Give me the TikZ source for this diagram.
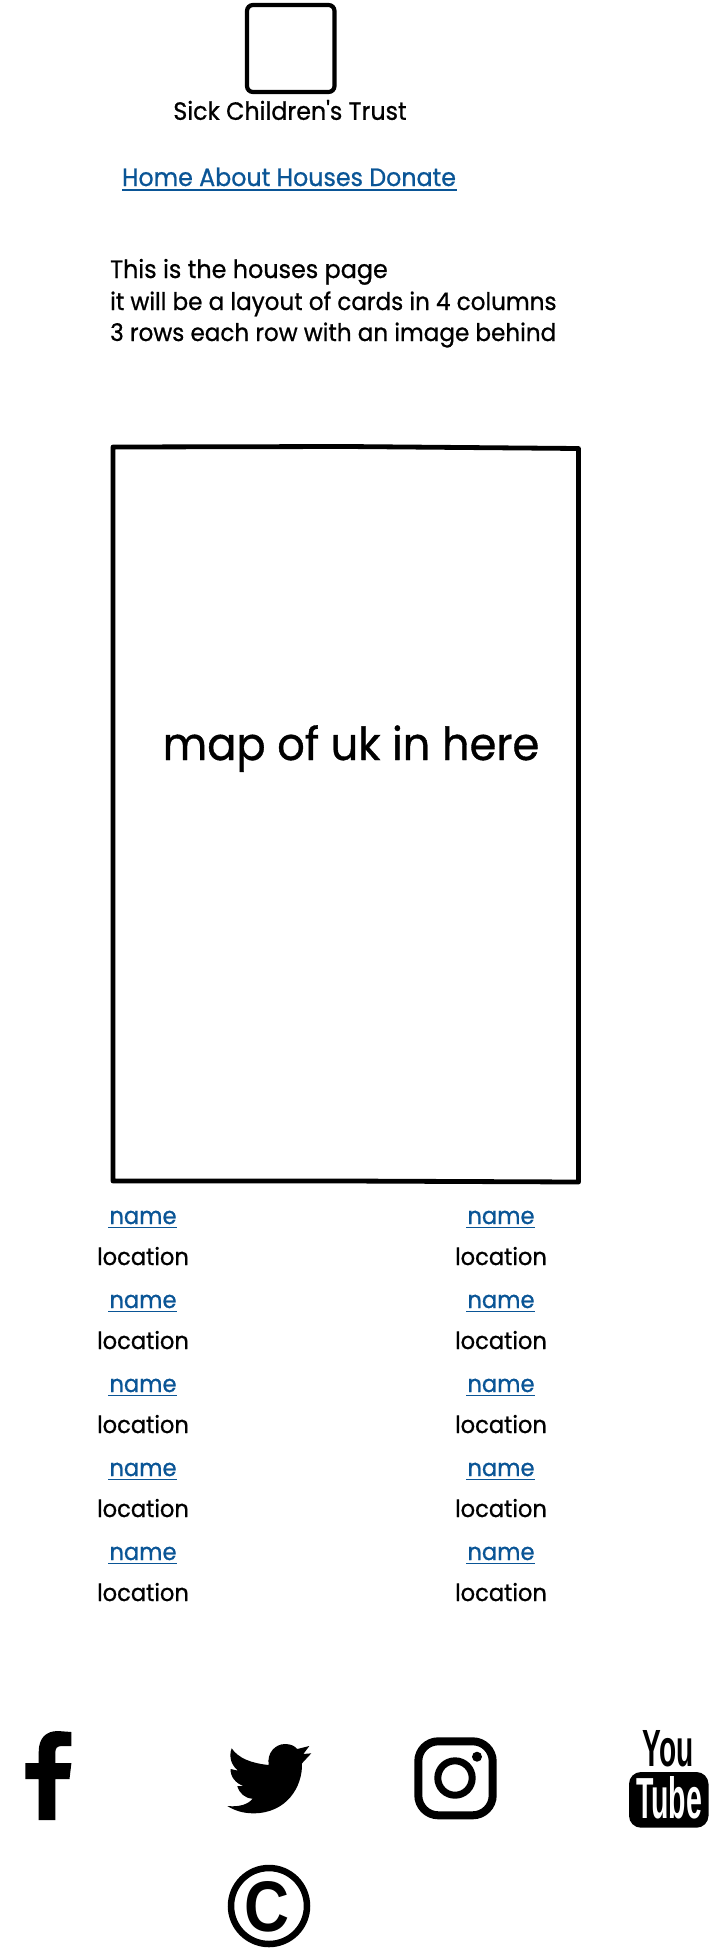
\documentclass[tikz,border=0pt]{standalone}
\usepackage{fontspec}
\setmainfont{Poppins}[FakeStretch=0.95, FakeBold=0.8, Ligatures=TeXOff]
\newfontfamily\ytfont{Liberation Sans Bold}
\definecolor{linkblue}{RGB}{10,85,150}
\tikzset{
    logobox/.style={draw, line width=4.2pt, rounded corners=6pt},
    mapbox/.style={draw, line width=4.8pt, line join=round},
    plain/.style={inner sep=0pt, font=\fontsize{25}{25}\selectfont},
    introtext/.style={plain, anchor=base west, font=\fontsize{24.3}{25}\selectfont},
    linktext/.style={plain, text=linkblue},
    cardtext/.style={inner sep=0pt, anchor=base, font=\fontsize{23.8}{25}\selectfont},
    linkline/.style={draw=linkblue, line width=1.6pt},
    iconring/.style={draw, line width=7pt}
}
\begin{document}
\begin{tikzpicture}[x=1pt, y=-1pt]
        \useasboundingbox (0,0) rectangle (718,1954);
        % header
        \draw[logobox] (247,5) rectangle (334.5,92);
        \node[plain] (trust) at (290,110) {Sick Children's Trust};
        \node[linktext, anchor=base] (menu) at (289,186) {Home About Houses Donate};
        \coordinate (menuleft) at (122,190);
        \coordinate (menuright) at (457,190);
        \draw[linkline] (menuleft) -- (menuright);
        \node[introtext, font=\fontsize{25.1}{25}\selectfont] (introa) at (110,278) {This is the houses page};
        \node[introtext] (introb) at (110,310) {it will be a layout of cards in 4 columns};
        \node[introtext] (introc) at (110,341) {3 rows each row with an image behind};
        % map
        \draw[mapbox] (113,447) -- (347,446.5) -- (578.5,448.5) -- (578.5,1182) -- (347,1181) -- (113,1181) -- cycle;
        \node[plain, font=\fontsize{45.5}{46}\selectfont, anchor=base] (maptext) at (351,760) {map of uk in here};
        % names
        \foreach \c/\x in {a/143,b/501} {
            \foreach \r/\y in {0/1224,1/1308,2/1392,3/1476,4/1560} {
                \node[cardtext, text=linkblue] (name\c\r) at (\x,\y) {name};
                \draw[linkline] ([xshift=-1pt,yshift=-3.5pt]name\c\r.base west) -- ([yshift=-3.5pt]name\c\r.base east);
                \node[cardtext] (loc\c\r) at (\x,\y+41) {location};
            }
        }
        % icons
        \fill (38.7,1820) -- (38.7,1779) -- (25.3,1779) -- (25.3,1763) -- (38.7,1763) -- (38.7,1752)
            .. controls (38.7,1738) and (46,1731) .. (58,1731) -- (71.4,1732) -- (71.4,1746) -- (62,1746)
            .. controls (57,1746) and (55.3,1748) .. (55.3,1753) -- (55.3,1763) -- (71.4,1763) -- (69.5,1779)
            -- (55.3,1779) -- (55.3,1820) -- cycle;
        \fill (231.7,1748.3) .. controls (238.3,1758.3) and (251.7,1763.3) .. (268.7,1765)
            .. controls (266.7,1753.3) and (275,1744) .. (285,1744)
            .. controls (291,1744) and (294.7,1746) .. (297.3,1749) -- (309.3,1746) -- (303.3,1754) -- (311.3,1753.3) -- (302,1763.3)
            .. controls (302.7,1786.7) and (286.7,1813.3) .. (253.3,1813.3)
            .. controls (243.3,1813.3) and (235,1810.7) .. (227.3,1806)
            .. controls (240,1807.3) and (248.3,1804) .. (252.7,1798.7)
            .. controls (245,1798.3) and (239.3,1793.3) .. (237.3,1786) -- (243.3,1786)
            .. controls (236,1783.3) and (230,1776.7) .. (230.7,1769) -- (238.3,1770.7)
            .. controls (231.7,1766) and (228.3,1756.7) .. (231.7,1748.3) -- cycle;
        \draw[iconring, line width=8pt, rounded corners=20pt] (418.3,1741.3) rectangle (492.7,1815.3);
        \draw[iconring] (455,1778) circle (17.2);
        \fill (477,1756.7) circle (5);
        \fill[rounded corners=12pt] (629,1772) rectangle (708.5,1827.7);
        \node[inner sep=0pt] (you) at (668,1749) {\resizebox{51pt}{36pt}{\ytfont You}};
        \node[inner sep=0pt, text=white] (tube) at (669,1798) {\resizebox{66pt}{42pt}{\ytfont Tube}};
        \draw[iconring, line width=6.5pt] (269,1906) circle (38);
        \node[inner sep=0pt] (copy) at (267.5,1907) {\resizebox{45pt}{50pt}{\ytfont C}};
\end{tikzpicture}
\end{document}
